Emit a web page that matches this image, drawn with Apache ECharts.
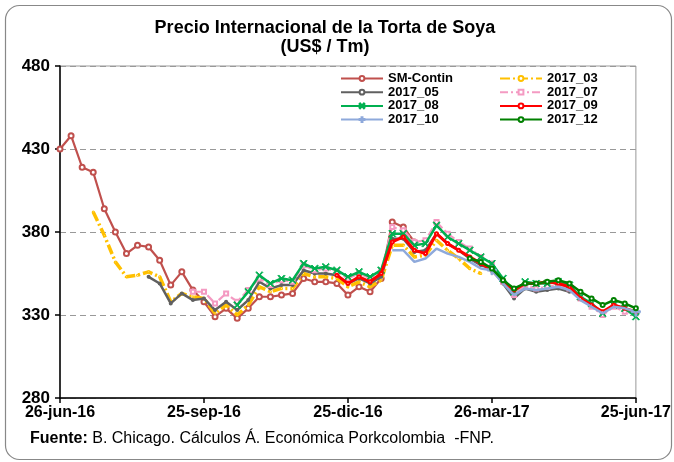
<!DOCTYPE html>
<html><head><meta charset="utf-8">
<script src="https://cdn.jsdelivr.net/npm/echarts@6/dist/echarts.min.js"></script>
<style>html,body{margin:0;padding:0;background:#fff}#c{width:674px;height:462px}</style>
</head><body><div id="c"></div>
<script>
const categories = ["26-jun-16","3-jul-16","10-jul-16","17-jul-16","24-jul-16","31-jul-16","7-ago-16","14-ago-16","21-ago-16","28-ago-16","4-sep-16","11-sep-16","18-sep-16","25-sep-16","2-oct-16","9-oct-16","16-oct-16","23-oct-16","30-oct-16","6-nov-16","13-nov-16","20-nov-16","27-nov-16","4-dic-16","11-dic-16","18-dic-16","25-dic-16","1-ene-17","8-ene-17","15-ene-17","22-ene-17","29-ene-17","5-feb-17","12-feb-17","19-feb-17","26-feb-17","5-mar-17","12-mar-17","19-mar-17","26-mar-17","2-abr-17","9-abr-17","16-abr-17","23-abr-17","30-abr-17","7-may-17","14-may-17","21-may-17","28-may-17","4-jun-17","11-jun-17","18-jun-17","25-jun-17"];
const tickLabels = ["26-jun-16","25-sep-16","25-dic-16","26-mar-17","25-jun-17"];
const yTicks = [280,330,380,430,480];
const _ = null;
const smContin = [430,438,419,416,394,380,367,372,371,363,348,356,345,338,329,334,328,334,341,341,342,343,352,350,350,349,342,347,344,352,386,383,374];
const s2017_03 = [_,_,_,392,378,362,353,354,356,353,338,343,341,340,331,336,330,336,347,344,346,346,355,353,353,352,347,350,347,351,372,372,365,366,375,369,364,358,355];
const s2017_05 = [_,_,_,_,_,_,_,_,353,349,337,343,339,340,333,338,333,339,350,346,348,348,357,355,355,354,349,352,349,353,376,376,368,369,379,373,369,364,360,358,349,340,346,344,345,346,344];
const s2017_07 = [_,_,_,_,_,_,_,_,_,_,_,_,344,344,337,343,338,345,352,348,351,350,360,357,358,356,352,355,352,356,383,381,374,375,386,379,374,370,365,361,350,342,348,346,347,348,346,340,335,330,335,332,331];
const s2017_08 = [_,_,_,_,_,_,_,_,_,_,_,_,_,_,_,_,336,344,354,349,352,351,361,358,359,357,353,356,353,357,379,379,372,373,384,377,373,369,365,361,352,344,350,349,349,350,348,341,337,331,336,334,329];
const s2017_09 = [_,_,_,_,_,_,_,_,_,_,_,_,_,_,_,_,_,_,_,_,_,_,_,_,_,354,349,353,350,355,374,377,369,367,379,373,369,365,361,357,350,345,349,349,350,349,347,340,336,332,336,334,332];
const s2017_10 = [_,_,_,_,_,_,_,_,_,_,_,_,_,_,_,_,_,_,_,_,_,_,_,_,_,_,_,_,_,_,369,369,362,364,370,367,365,362,358,357,349,342,346,345,346,347,345,339,335,331,335,334,332];
const s2017_12 = [_,_,_,_,_,_,_,_,_,_,_,_,_,_,_,_,_,_,_,_,_,_,_,_,_,_,_,_,_,_,_,_,_,_,_,_,_,364,362,358,351,346,349,349,350,351,349,344,340,336,339,337,334];

const FONT = "'Liberation Sans', Arial, sans-serif";
const chart = echarts.init(document.getElementById('c'));
const X = 'path://M0,1L1,0L5,4L9,0L10,1L6,5L10,9L9,10L5,6L1,10L0,9L4,5Z';
const PLUS = 'path://M4,0H6V4H10V6H6V10H4V6H0V4H4Z';
function ser(name, data, color, width, type, symbol, size, z) {
  return {name, type:'line', data, connectNulls:false, smooth:false,
    symbol, symbolSize:size, showSymbol:true, z,
    lineStyle:{color, width, type},
    itemStyle:{color, borderColor:color, borderWidth:1}, emphasis:{disabled:true}};
}
const series = [
  ser('SM-Contin', smContin, '#C0504D', 2.2, 'solid', 'emptyCircle', 5, 2),
  ser('2017_03', s2017_03, '#FFC000', 3.5, [10,3,2,3], 'emptyCircle', 1, 3),
  ser('2017_05', s2017_05, '#606060', 2.5, 'solid', 'emptyCircle', 2, 4),
  ser('2017_07', s2017_07, '#F49AC2', 2.2, [8,3,2,3], 'emptyRect', 4, 5),
  ser('2017_08', s2017_08, '#00B050', 2.5, 'solid', X, 7, 6),
  ser('2017_09', s2017_09, '#FF0000', 3, 'solid', 'emptyCircle', 3, 7),
  ser('2017_10', s2017_10, '#8EA9DB', 2.5, 'solid', PLUS, 9, 8),
  ser('2017_12', s2017_12, '#008000', 2.5, 'solid', 'emptyCircle', 4, 9)
];
const legendBase = {orient:'vertical', top:72, itemWidth:42, itemHeight:6, itemGap:0.7, padding:0,
  textStyle:{fontFamily:FONT, fontWeight:'bold', fontSize:13, color:'#000', lineHeight:13}};
chart.setOption({
  animation:false,
  backgroundColor:'#fff',
  legend:[
    Object.assign({}, legendBase, {left:340, data:['SM-Contin','2017_05','2017_08','2017_10']}),
    Object.assign({}, legendBase, {left:499, data:['2017_03','2017_07','2017_09','2017_12']})
  ],
  grid:{left:60, right:34, top:66, bottom:64, show:true, borderColor:'#999', borderWidth:1, backgroundColor:'transparent'},
  xAxis:{type:'category', data:categories, boundaryGap:false,
    axisLine:{lineStyle:{color:'#000', width:1.5}},
    axisTick:{show:true, interval:(i)=>i%13===0, length:5, lineStyle:{color:'#000', width:1.5}},
    axisLabel:{interval:(i)=>i%13===0, formatter:(v)=> tickLabels.indexOf(v)>=0 ? v : '', fontFamily:FONT, fontWeight:'bold', fontSize:16, color:'#000', margin:7},
    splitLine:{show:false}},
  yAxis:{type:'value', min:yTicks[0], max:yTicks[yTicks.length-1], interval:50,
    axisLine:{show:true, lineStyle:{color:'#000', width:1.5}},
    axisTick:{show:true, length:5, lineStyle:{color:'#000', width:1.5}},
    axisLabel:{fontFamily:FONT, fontWeight:'bold', fontSize:17, color:'#000', margin:10},
    splitLine:{show:true, lineStyle:{color:'#999', type:[6,4], width:1}}},
  graphic:[
    {type:'rect', left:3, top:3, shape:{width:666, height:454, r:14}, style:{fill:'none', stroke:'#888', lineWidth:1.2}, silent:true, z:-1},
    {type:'text', x:325, y:19, style:{text:'Precio Internacional de la Torta de Soya\n(US$ / Tm)', align:'center', verticalAlign:'top', fontFamily:FONT, fontWeight:'bold', fontSize:18, lineHeight:19, fill:'#000'}},
    {type:'text', left:30, top:431, style:{text:'{b|Fuente:} B. Chicago. Cálculos Á. Económica Porkcolombia  -FNP.', fontFamily:FONT, fontSize:16, fill:'#000',
      rich:{b:{fontFamily:FONT, fontWeight:'bold', fontSize:16, fill:'#000'}}}}
  ],
  series
});
</script></body></html>
